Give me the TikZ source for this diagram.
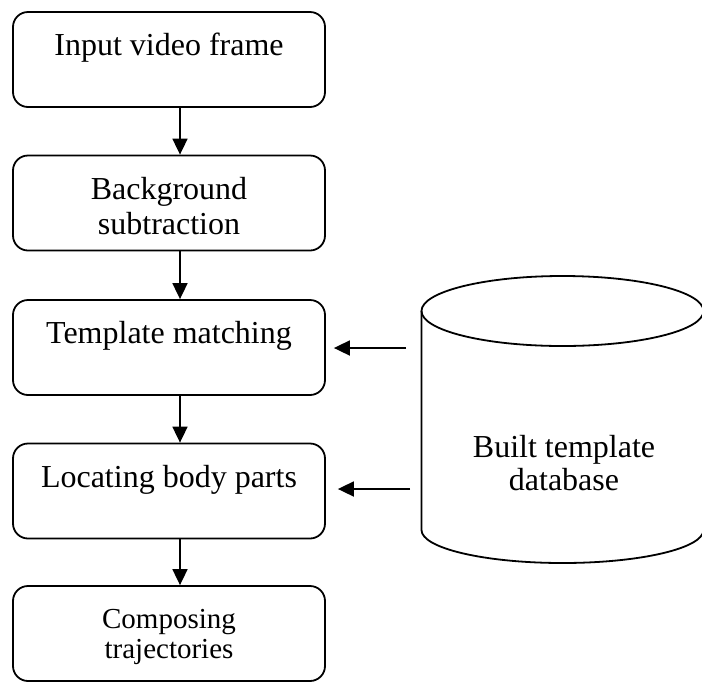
\documentclass[tikz,border=0pt]{standalone}
\usepackage{fontspec}
\setmainfont{Liberation Serif}
\usetikzlibrary{arrows.meta,calc}

\tikzset{
  stage/.style={draw, line width=1.8pt, rounded corners=15pt,
    minimum width=312pt, minimum height=95pt, inner sep=0pt},
  lbl/.style={inner sep=0pt, anchor=base, font=\fontsize{32}{36}\selectfont},
  lblsmall/.style={inner sep=0pt, anchor=base, font=\fontsize{29}{30}\selectfont},
  flow/.style={line width=1.8pt, -{Triangle[length=16pt,width=15pt]}},
  dbline/.style={line width=1.8pt},
}

\begin{document}
\begin{tikzpicture}[x=1pt, y=-1pt]
  \useasboundingbox (0,0) rectangle (702,681);
  \clip (0,0) rectangle (702,681);

  % processing stages
  \node[stage] (b1) at (169,59.5)  {};
  \node[stage] (b2) at (169,203)   {};
  \node[stage] (b3) at (169,347.5) {};
  \node[stage] (b4) at (169,491)   {};
  \node[stage] (b5) at (169,633.5) {};

  \node[lbl] (t1)  at (169,55)  {Input video frame};
  \node[lbl] (t2a) at (169,199) {Background};
  \node[lbl] (t2b) at (169,234) {subtraction};
  \node[lbl] (t3)  at (169,343) {Template matching};
  \node[lbl] (t4)  at (169,487) {Locating body parts};
  \node[lblsmall] (t5a) at (169,628) {Composing};
  \node[lblsmall] (t5b) at (169,658) {trajectories};

  % vertical flow between stages
  \draw[flow] ($(b1.south)+(11,0)$) -- ($(b2.north)+(11,0)$);
  \draw[flow] ($(b2.south)+(11,0)$) -- ($(b3.north)+(11,0)$);
  \draw[flow] ($(b3.south)+(11,0)$) -- ($(b4.north)+(11,0)$);
  \draw[flow] ($(b4.south)+(11,0)$) -- ($(b5.north)+(11,0)$);

  % template database cylinder (y axis points down, so the lower rim runs through 90 degrees)
  \coordinate (dbtop) at (562.5,311);
  \coordinate (dbbot) at (562.5,530);
  \draw[dbline] (dbtop) ellipse [x radius=141, y radius=35];
  \draw[dbline] ($(dbtop)+(-141,0)$) -- ($(dbbot)+(-141,0)$)
    arc[start angle=180, end angle=0, x radius=141, y radius=33]
    -- ($(dbtop)+(141,0)$);
  \node[lbl] (d1) at (564,457) {Built template};
  \node[lbl] (d2) at (564,490) {database};

  % database feeding the matching stages
  \coordinate (h1) at (406,348);
  \coordinate (h2) at (410,489);
  \draw[flow] (h1) -- ($(h1 -| b3.east)+(8,0)$);
  \draw[flow] (h2) -- ($(h2 -| b4.east)+(12,0)$);
\end{tikzpicture}
\end{document}
